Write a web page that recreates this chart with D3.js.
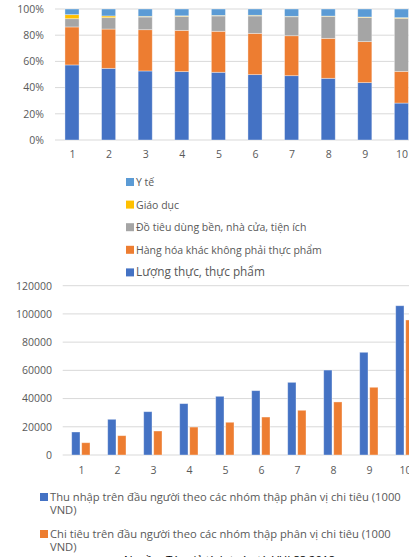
<!DOCTYPE html>
<html>
<head>
<meta charset="utf-8">
<script src="https://cdn.jsdelivr.net/npm/d3@7"></script>
<style>
  html, body { margin: 0; padding: 0; background: #fff; overflow: hidden; }
  svg { display: block; font-family: "Open Sans", "Noto Sans", sans-serif; }
  .tick text { fill: #595959; }
</style>
</head>
<body>
<div id="chart"></div>
<script>
// decile groups
const deciles = ['1', '2', '3', '4', '5', '6', '7', '8', '9', '10'];

// spending shares (%), stacked bottom to top
const shareFood = [57.3, 54.7, 52.7, 52.2, 51.7, 49.9, 49.1, 47.1, 43.8, 28.2];
const shareNonFood = [29.0, 30.0, 31.5, 31.5, 31.3, 31.5, 30.5, 30.5, 31.3, 24.2];
const shareDurables = [6.3, 8.7, 9.7, 10.7, 11.7, 13.3, 14.5, 16.8, 18.5, 40.5];
const shareEducation = [3.1, 1.3, 0.5, 0.4, 0.4, 0.5, 0.3, 0.2, 0.3, 0.5];
const shareHealth = [4.3, 5.3, 5.6, 5.2, 4.9, 4.8, 5.6, 5.4, 6.1, 6.6];

const shareNames = [
  'Lượng thực, thực phẩm',
  'Hàng hóa khác không phải thực phẩm',
  'Đồ tiêu dùng bền, nhà cửa, tiện ích',
  'Giáo dục',
  'Y tế'
];
const shareColors = ['#4472C4', '#ED7D31', '#A5A5A5', '#FFC000', '#5B9BD5'];
const shareTicks = [0, 20, 40, 60, 80, 100];

// income / spending per capita (1000 VND)
const income = [16300, 25300, 30700, 36400, 41600, 45600, 51500, 60200, 72800, 105800];
const spending = [8700, 13700, 17000, 19800, 23200, 26900, 31700, 37600, 48000, 95700];
const moneyNames = [
  ['Thu nhập trên đầu người theo các nhóm thập phân vị chi tiêu (1000', 'VND)'],
  ['Chi tiêu trên đầu người theo các nhóm thập phân vị chi tiêu (1000', 'VND)']
];
const moneyColors = ['#4472C4', '#ED7D31'];
const moneyTicks = [0, 20000, 40000, 60000, 80000, 100000, 120000];

const sourceNote = 'Nguồn: Tác giả tính toán từ VHLSS 2018';

(function() {
  const W = 409, H = 557;
  const svg = d3.select('#chart').append('svg')
    .attr('width', W)
    .attr('height', H);

  // ---------- top: stacked 100% columns ----------
  const pTop = { left: 55, right: 409, y0: 140, y1: 9 };

  const xTop = d3.scalePoint().domain(deciles).range([53.7, 419.7]).padding(0.5);
  const yTop = d3.scaleLinear().domain([0, 100]).range([pTop.y0, pTop.y1]);
  const barW = xTop.step() * 0.385;

  const topG = svg.append('g');

  topG.selectAll('.grid-top')
    .data(shareTicks)
    .enter()
    .append('line')
    .attr('x1', pTop.left)
    .attr('x2', pTop.right)
    .attr('y1', d => yTop(d))
    .attr('y2', d => yTop(d))
    .attr('stroke', '#D9D9D9')
    .attr('stroke-width', 1);

  const yAxisTop = topG.append('g')
    .attr('transform', 'translate(44,0)')
    .call(d3.axisLeft(yTop).tickValues(shareTicks).tickFormat(d => d + '%').tickSize(0).tickPadding(0));
  yAxisTop.select('.domain').remove();
  yAxisTop.selectAll('text').attr('font-size', 10.5).attr('font-family', '"Open Sans", sans-serif');

  const xAxisTop = topG.append('g')
    .attr('transform', `translate(0,${pTop.y0 + 11})`)
    .call(d3.axisBottom(xTop).tickSize(0).tickPadding(0));
  xAxisTop.select('.domain').remove();
  xAxisTop.selectAll('text').attr('font-size', 10.5).attr('font-family', '"Open Sans", sans-serif');

  const shareSeries = [shareFood, shareNonFood, shareDurables, shareEducation, shareHealth];
  const stackRows = deciles.map((d, i) => {
    const row = { decile: d };
    shareSeries.forEach((s, k) => { row['s' + k] = s[i]; });
    return row;
  });
  const stack = d3.stack()
    .keys(shareSeries.map((s, k) => 's' + k))
    .offset(d3.stackOffsetExpand);
  const layers = stack(stackRows);

  topG.selectAll('.layer')
    .data(layers)
    .enter()
    .append('g')
    .attr('fill', (d, k) => shareColors[k])
    .selectAll('rect')
    .data(d => d)
    .enter()
    .append('rect')
    .attr('x', d => xTop(d.data.decile) - barW / 2)
    .attr('width', barW)
    .attr('y', d => yTop(d[1] * 100))
    .attr('height', d => yTop(d[0] * 100) - yTop(d[1] * 100))
    .attr('stroke', '#fff')
    .attr('stroke-opacity', 0.45)
    .attr('stroke-width', 0.8);

  // legend (top item is last series)
  const legTop = svg.append('g').attr('transform', 'translate(126,0)');
  const legOrder = d3.range(shareNames.length).reverse();
  legOrder.forEach((k, j) => {
    const y = 182 + j * 22.6;
    legTop.append('rect')
      .attr('x', 0)
      .attr('y', y - 4)
      .attr('width', 8)
      .attr('height', 8)
      .attr('fill', shareColors[k]);
    legTop.append('text')
      .attr('x', 10)
      .attr('y', y + 4)
      .attr('font-size', k === 0 ? 11.8 : 10.5)
      .attr('fill', '#595959')
      .text(shareNames[k]);
  });

  // ---------- bottom: grouped columns ----------
  const pBot = { left: 62.7, right: 409, y0: 455, y1: 285.7 };

  const xBot = d3.scalePoint().domain(deciles).range([63, 423]).padding(0.5);
  const xInner = d3.scaleBand().domain([0, 1]).range([-9.3, 9]).paddingInner(0.17);
  const yBot = d3.scaleLinear().domain([0, 120000]).range([pBot.y0, pBot.y1]);

  const botG = svg.append('g');

  botG.selectAll('.grid-bot')
    .data(moneyTicks)
    .enter()
    .append('line')
    .attr('x1', pBot.left)
    .attr('x2', pBot.right)
    .attr('y1', d => yBot(d))
    .attr('y2', d => yBot(d))
    .attr('stroke', '#D9D9D9')
    .attr('stroke-width', 1);

  const yAxisBot = botG.append('g')
    .attr('transform', 'translate(52,0)')
    .call(d3.axisLeft(yBot).tickValues(moneyTicks).tickFormat(d3.format('d')).tickSize(0).tickPadding(0));
  yAxisBot.select('.domain').remove();
  yAxisBot.selectAll('text').attr('font-size', 10.5).attr('font-family', '"Open Sans", sans-serif');

  const xAxisBot = botG.append('g')
    .attr('transform', `translate(0,${pBot.y0 + 12})`)
    .call(d3.axisBottom(xBot).tickSize(0).tickPadding(0));
  xAxisBot.select('.domain').remove();
  xAxisBot.selectAll('text').attr('font-size', 10.5).attr('font-family', '"Open Sans", sans-serif');

  [income, spending].forEach((series, k) => {
    botG.append('g')
      .attr('fill', moneyColors[k])
      .selectAll('rect')
      .data(series)
      .enter()
      .append('rect')
      .attr('x', (d, i) => xBot(deciles[i]) + xInner(k))
      .attr('width', xInner.bandwidth())
      .attr('y', d => yBot(d))
      .attr('height', d => yBot(0) - yBot(d))
      .attr('stroke', '#fff')
      .attr('stroke-opacity', 0.45)
      .attr('stroke-width', 0.8);
  });

  // legend
  const legBot = svg.append('g');
  moneyNames.forEach((lines, k) => {
    const y = 497 + k * 37;
    legBot.append('rect')
      .attr('x', 40)
      .attr('y', y - 4)
      .attr('width', 8)
      .attr('height', 8)
      .attr('fill', moneyColors[k]);
    const t = legBot.append('text')
      .attr('font-size', 11.2)
      .attr('fill', '#595959');
    lines.forEach((line, j) => {
      t.append('tspan')
        .attr('x', 50)
        .attr('y', y + 4 + j * 13.3)
        .text(line);
    });
  });

  // source note, mostly cut off at the bottom edge
  svg.append('text')
    .attr('x', 124)
    .attr('y', 564)
    .attr('font-size', 11.5)
    .attr('fill', '#000')
    .text(sourceNote);
})();
</script>
</body>
</html>
